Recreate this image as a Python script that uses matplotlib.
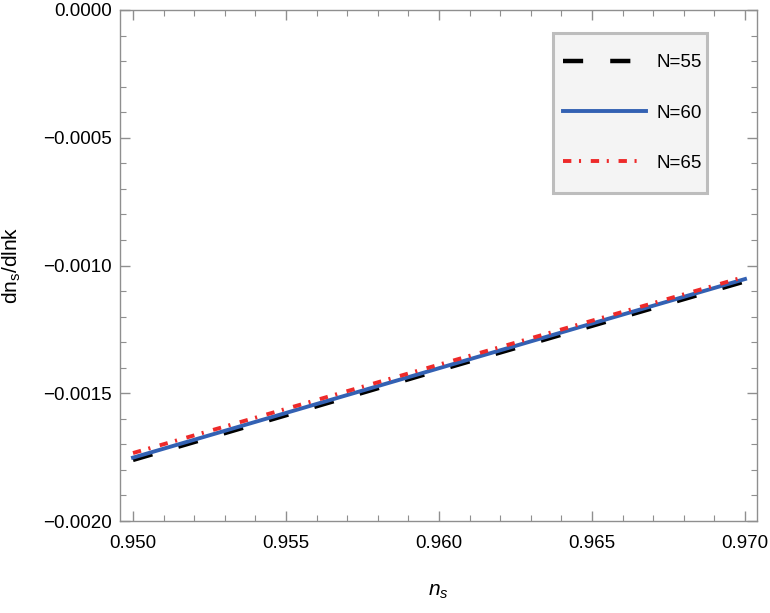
import matplotlib
matplotlib.use("Agg")
import matplotlib.pyplot as plt
from matplotlib.patches import Rectangle
from matplotlib.ticker import MultipleLocator, FuncFormatter

plt.rcParams['font.family'] = ['Liberation Sans', 'DejaVu Sans']
plt.rcParams['lines.scale_dashes'] = False
plt.rcParams['mathtext.fontset'] = 'custom'
plt.rcParams['mathtext.it'] = 'Liberation Sans:italic'
plt.rcParams['mathtext.rm'] = 'Liberation Sans'

ns = [0.950, 0.955, 0.960, 0.965, 0.970]
run_55 = [-0.001761, -0.001586, -0.001410, -0.001236, -0.001062]
run_60 = [-0.001752, -0.001577, -0.001402, -0.001227, -0.001053]
run_65 = [-0.001734, -0.001561, -0.001388, -0.001216, -0.001044]
labels = ["N=55", "N=60", "N=65"]

fig = plt.figure(figsize=(7.7, 6.13), dpi=100)
ax = fig.add_axes([120/770, 1 - 521/613, (757-120)/770, (521-10)/613])

ax.plot(ns, run_55, color='black', lw=3.2, dashes=(14.5, 19.5), label=labels[0], zorder=2)
ax.plot(ns, run_60, color='#3361b3', lw=2.8, label=labels[1], zorder=3)
ax.plot(ns, run_65, color='#ee2a2a', lw=2.8, dashes=(6, 5.5, 1.5, 7), label=labels[2], zorder=4)

ax.set_xlim(0.949575, 0.970392)
ax.set_ylim(-0.0020, 0.0)
ax.xaxis.set_major_locator(MultipleLocator(0.005))
ax.xaxis.set_minor_locator(MultipleLocator(0.001))
ax.yaxis.set_major_locator(MultipleLocator(0.0005))
ax.yaxis.set_minor_locator(MultipleLocator(0.0001))
ax.xaxis.set_major_formatter(FuncFormatter(lambda v, p: f"{v:.3f}".replace('-', '\u2212')))
ax.yaxis.set_major_formatter(FuncFormatter(lambda v, p: ("0.0000" if abs(v) < 1e-12 else f"{v:.4f}").replace('-', '\u2212')))

frame_col = '#8f8f8f'
for s in ax.spines.values():
    s.set_color(frame_col)
    s.set_linewidth(1.0)
ax.tick_params(which='both', direction='in', color=frame_col, top=True, right=True,
               labelsize=13.5, labelcolor='black')
ax.tick_params(which='major', length=7, width=1.0)
ax.tick_params(which='minor', length=4, width=0.8)
ax.tick_params(axis='x', which='major', pad=10)
ax.tick_params(axis='y', which='major', pad=6)

ax.set_xlabel('$n_s$', fontsize=15, labelpad=22)
ax.set_ylabel('dn$_\\mathrm{s}$/dlnk', fontsize=15, labelpad=14)

# legend box (drawn separately for independent horizontal/vertical padding)
box = Rectangle(((553-120)/637, 1 - (193-10)/511), 154/637, 160/511,
                transform=ax.transAxes, facecolor='#f4f4f4', edgecolor='#bdbdbd',
                linewidth=2.2, zorder=5)
ax.add_patch(box)
leg = ax.legend(loc='center', bbox_to_anchor=((632.5-120)/637, 1 - (113-10)/511),
                frameon=False, fontsize=13.5, handlelength=4.4,
                handletextpad=0.58, labelspacing=1.76,
                borderpad=0, borderaxespad=0)
leg.set_zorder(6)

fig.savefig('out.png', dpi=100)
